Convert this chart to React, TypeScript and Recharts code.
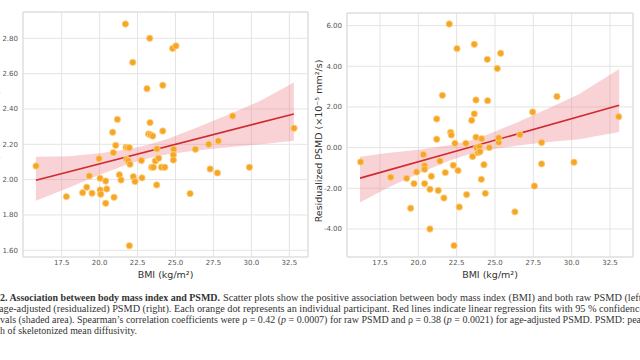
import { ComposedChart, Scatter, Line, Area, XAxis, YAxis, CartesianGrid, ReferenceArea } from 'recharts'

// raw PSMD panel (left)
const leftBmi = [
  15.81, 17.81, 18.88, 19.15, 19.32, 19.5, 19.96, 20.03, 20.03, 20.07, 20.4, 20.47, 20.4, 20.86, 20.9, 20.95,
  21.06, 21.17, 21.3, 21.41, 21.7, 21.74, 21.85, 21.96, 21.78, 21.89, 22.0, 21.96, 22.18, 22.22, 22.33, 22.75,
  22.79, 23.12, 23.3, 23.32, 23.23, 23.36, 23.5, 23.43, 23.54, 23.67, 23.78, 23.89, 23.76, 24.16, 24.16, 24.07,
  24.29, 24.81, 25.03, 24.88, 24.86, 24.86, 25.96, 26.31, 27.19, 27.28, 27.76, 27.82, 28.77, 29.87, 32.81,
]
const leftPsmd = [
  2.077, 1.904, 1.926, 1.957, 2.021, 1.923, 2.119, 2.008, 1.941, 1.917, 1.992, 1.947, 1.866, 2.268, 2.153, 1.9,
  2.194, 2.341, 2.028, 1.998, 2.881, 2.183, 2.181, 2.181, 2.115, 2.106, 2.087, 1.626, 2.664, 2.017, 1.989, 2.108,
  2.01, 2.515, 2.8, 2.323, 2.258, 2.253, 2.247, 2.07, 2.07, 2.106, 2.174, 2.121, 1.97, 2.534, 2.275, 2.07,
  2.07, 2.743, 2.757, 2.172, 2.14, 2.111, 1.921, 2.172, 2.2, 2.06, 2.038, 2.219, 2.36, 2.07, 2.291,
]
const leftFitBmi = [15.8, 32.8]
const leftFit = [1.996, 2.372]
const leftBandBmi = [15.8, 18, 20, 22, 23.2, 24.5, 26.5, 28.5, 30.5, 32.8]
const leftBandLow = [1.88, 1.956, 2.027, 2.091, 2.121, 2.144, 2.167, 2.183, 2.199, 2.22]
const leftBandHigh = [2.13, 2.133, 2.15, 2.174, 2.197, 2.232, 2.298, 2.369, 2.443, 2.55]

// residualized PSMD panel (right)
const rightBmi = [
  16.24, 18.2, 19.24, 19.5, 19.72, 19.89, 20.33, 20.41, 20.41, 20.41, 20.76, 20.76, 20.85, 21.2, 21.2, 21.3,
  21.41, 21.57, 21.67, 21.76, 22.02, 22.11, 22.15, 22.28, 22.33, 22.39, 22.52, 22.59, 22.67, 23.1, 23.15, 23.48,
  23.54, 23.65, 23.65, 23.76, 23.76, 23.8, 23.89, 23.98, 24.02, 24.11, 24.13, 24.28, 24.37, 24.5, 24.52, 24.63,
  25.15, 25.24, 25.24, 25.37, 26.63, 26.3, 27.46, 27.57, 28.04, 28.04, 29.04, 30.15, 33.07,
]
const rightResid = [
  -0.705, -1.46, -1.51, -2.98, -1.77, -1.2, -0.34, -0.89, -1.07, -1.77, -2.05, -4.0, -1.41, 1.41, 0.41, -2.11,
  -0.66, 2.57, -2.48, -1.23, 6.08, 0.75, 0.62, -0.87, -4.82, 0.21, 4.87, -1.13, -2.92, 0.21, -2.31, 1.34,
  -0.44, 5.08, 1.66, 0.51, 2.34, 0.0, -0.25, 0.05, -0.2, -1.56, 0.44, -0.84, -2.25, 4.34, 2.31, 0.0,
  3.89, 0.26, 0.48, 4.64, 0.64, -3.16, 1.75, -1.89, 0.25, -0.8, 2.51, -0.72, 1.52,
]
const rightFitBmi = [16.2, 33.1]
const rightFit = [-1.5, 2.08]
const rightBandBmi = [16.2, 18, 20, 22, 23.3, 24.5, 26.5, 28.5, 30.5, 33.1]
const rightBandLow = [-2.7, -1.97, -1.28, -0.65, -0.33, -0.12, 0.1, 0.27, 0.41, 0.77]
const rightBandHigh = [-0.45, -0.27, -0.11, 0.11, 0.33, 0.63, 1.26, 1.94, 2.64, 3.86]

const bmiTicks = [17.5, 20, 22.5, 25, 27.5, 30, 32.5]
const leftTicks = [1.6, 1.8, 2.0, 2.2, 2.4, 2.6, 2.8]
const rightTicks = [-4, -2, 0, 2, 4, 6]

const AXIS_FONT = 'DejaVu Sans'

const VLabel = ({ viewBox, text, dx, dy }: any) => {
  const cx = viewBox.x + dx
  const cy = viewBox.y + viewBox.height / 2 + dy
  return (
    <text transform={`translate(${cx},${cy}) rotate(-90)`} textAnchor="middle" fontSize={9.5} fill="#333" fontFamily={AXIS_FONT}>
      {text}
    </text>
  )
}

const HLabel = ({ viewBox }: any) => (
  <text x={viewBox.x + viewBox.width / 2} y={viewBox.y + 21} textAnchor="middle" fontSize={9.5} fill="#333" fontFamily={AXIS_FONT}>
    BMI (kg/m²)
  </text>
)

const Dot = (p: any) => <circle cx={p.cx} cy={p.cy} r={3.2} fill="#f4a52a" stroke="#ffd37a" strokeWidth={0.8} />

interface IPanelProps {
  xs: number[]
  ys: number[]
  fitX: number[]
  fitY: number[]
  bandX: number[]
  bandLow: number[]
  bandHigh: number[]
  xDomain: [number, number]
  yDomain: [number, number]
  yTicks: number[]
  yLabel: string
  yAxisWidth: number
  labelDx: number
  width: number
  margin: { top: number; right: number; bottom: number; left: number }
  digits: number
}

const Panel = (p: IPanelProps) => {
  const points = p.xs.map((x, i) => ({ x, y: p.ys[i] }))
  const fit = p.fitX.map((x, i) => ({ x, y: p.fitY[i] }))
  const band = p.bandX.map((x, i) => ({ x, range: [p.bandLow[i], p.bandHigh[i]] }))
  const tick = { fontSize: 7, fill: '#555', fontFamily: AXIS_FONT }
  return (
    <ComposedChart width={p.width} height={290} margin={p.margin}>
      <CartesianGrid stroke="#e4e4e4" />
      <ReferenceArea x1={p.xDomain[0]} x2={p.xDomain[1]} y1={p.yDomain[0]} y2={p.yDomain[1]} fill="none" stroke="#dcdcdc" />
      <XAxis
        type="number"
        dataKey="x"
        domain={p.xDomain}
        allowDataOverflow
        ticks={bmiTicks}
        tickFormatter={(v: number) => v.toFixed(1)}
        tick={tick}
        tickLine={false}
        axisLine={false}
        tickSize={0}
        tickMargin={3}
        height={33}
        label={{ content: (props: any) => <HLabel {...props} /> }}
      />
      <YAxis
        type="number"
        dataKey="y"
        domain={p.yDomain}
        allowDataOverflow
        ticks={p.yTicks}
        tickFormatter={(v: number) => v.toFixed(p.digits)}
        tick={tick}
        tickLine={false}
        axisLine={false}
        tickSize={0}
        tickMargin={5}
        width={p.yAxisWidth}
        label={{ content: (props: any) => <VLabel {...props} text={p.yLabel} dx={p.labelDx} dy={6} /> }}
      />
      <Scatter data={points} dataKey="y" shape={Dot} isAnimationActive={false} />
      <Area data={band} dataKey="range" type="linear" stroke="none" fill="#ee7f8a" fillOpacity={0.35} isAnimationActive={false} />
      <Line data={fit} dataKey="y" type="linear" stroke="#cf2a2f" strokeWidth={1.6} dot={false} isAnimationActive={false} />
    </ComposedChart>
  )
}

const App = () => {
  const serif = 'Liberation Serif'
  return (
    <div style={{ position: 'absolute', left: 0, top: 0, width: 640, height: 360, background: '#fff', overflow: 'hidden' }}>
      <div style={{ position: 'absolute', left: 0, top: 0 }}>
        <Panel
          xs={leftBmi}
          ys={leftPsmd}
          fitX={leftFitBmi}
          fitY={leftFit}
          bandX={leftBandBmi}
          bandLow={leftBandLow}
          bandHigh={leftBandHigh}
          xDomain={[14.95, 33.73]}
          yDomain={[1.562, 2.949]}
          yTicks={leftTicks}
          yLabel="PSMD (×10⁻⁴ mm²/s)"
          yAxisWidth={23}
          labelDx={-1}
          width={320}
          margin={{ top: 12, right: 12, bottom: 0, left: 0 }}
          digits={2}
        />
      </div>
      <div style={{ position: 'absolute', left: 300, top: 0 }}>
        <Panel
          xs={rightBmi}
          ys={rightResid}
          fitX={rightFitBmi}
          fitY={rightFit}
          bandX={rightBandBmi}
          bandLow={rightBandLow}
          bandHigh={rightBandHigh}
          xDomain={[15.35, 34.0]}
          yDomain={[-5.38, 6.62]}
          yTicks={rightTicks}
          yLabel="Residualized PSMD (×10⁻⁵ mm²/s)"
          yAxisWidth={47}
          labelDx={22}
          width={340}
          margin={{ top: 13, right: 7, bottom: 0, left: 0 }}
          digits={2}
        />
      </div>
      <svg width={640} height={360} style={{ position: 'absolute', left: 0, top: 0, pointerEvents: 'none' }}>
        <g fontFamily={serif} fontSize={9.5} fill="#333">
          <text x={0} y={301} textLength={220} lengthAdjust="spacingAndGlyphs" fontWeight="bold">
            2. Association between body mass index and PSMD.
          </text>
          <text x={223} y={301} textLength={422} lengthAdjust="spacingAndGlyphs">
            Scatter plots show the positive association between body mass index (BMI) and both raw PSMD (left)
          </text>
          <text x={-1} y={312} textLength={645} lengthAdjust="spacingAndGlyphs">
            age-adjusted (residualized) PSMD (right). Each orange dot represents an individual participant. Red lines indicate linear regression fits with 95 % confidence
          </text>
          <text x={0} y={323} textLength={646} lengthAdjust="spacingAndGlyphs">
            vals (shaded area). Spearman’s correlation coefficients were ρ = 0.42 (<tspan fontStyle="italic">p</tspan> = 0.0007) for raw PSMD and ρ = 0.38 (<tspan fontStyle="italic">p</tspan> = 0.0021) for age-adjusted PSMD. PSMD: peak
          </text>
          <text x={0} y={334} textLength={137} lengthAdjust="spacingAndGlyphs">
            h of skeletonized mean diffusivity.
          </text>
        </g>
      </svg>
    </div>
  )
}

export default App
